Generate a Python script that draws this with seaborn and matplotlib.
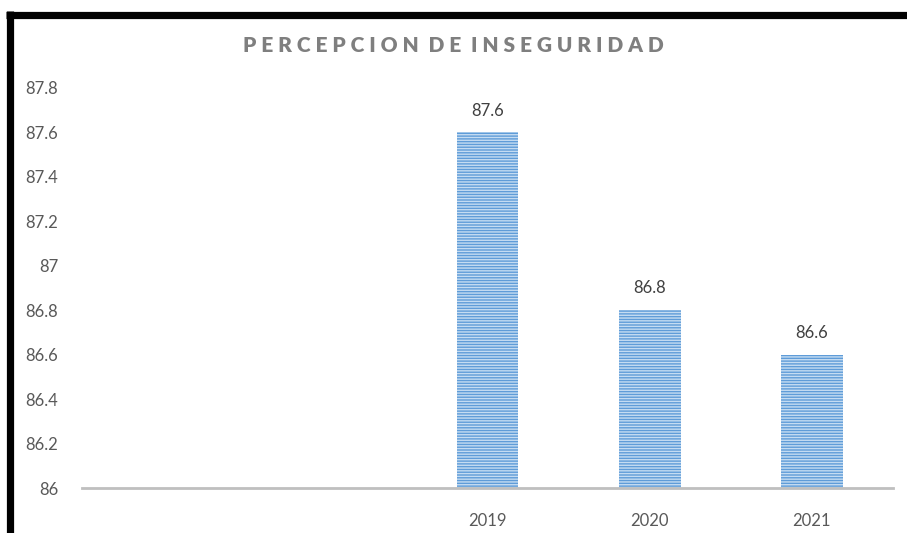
import matplotlib
matplotlib.use("Agg")
import matplotlib.pyplot as plt
from matplotlib.lines import Line2D
import seaborn as sns
import pandas as pd

# data
years = ["2019", "2020", "2021"]
values = [87.6, 86.8, 86.6]
slots = ["", " ", "2019", "2020", "2021"]   # two empty categories before the years
yticks = [86, 86.2, 86.4, 86.6, 86.8, 87, 87.2, 87.4, 87.6, 87.8]
ytick_labels = ["86", "86.2", "86.4", "86.6", "86.8", "87", "87.2", "87.4", "87.6", "87.8"]
title = "PERCEPCION DE INSEGURIDAD"

sns.set_style("white")
plt.rcParams["font.family"] = ["Lato", "DejaVu Sans"]
plt.rcParams["hatch.linewidth"] = 1.0

df = pd.DataFrame({"year": years, "value": values})

fig = plt.figure(figsize=(9.07, 5.33), dpi=100)
ax = fig.add_axes([0.0904, 0.0844, 0.8942, 0.7506])

sns.barplot(data=df, x="year", y="value", order=slots, color="#5b9bd5",
            width=0.38, ax=ax, errorbar=None, saturation=1)
for p in ax.patches:
    p.set_facecolor("#5f9cd8")
    p.set_edgecolor("#c5dcf2")
    p.set_hatch("------")
    p.set_linewidth(0)

ax.set_ylim(86, 87.8)
ax.set_yticks(yticks)
ax.set_yticklabels(ytick_labels)
ax.set_xlabel("")
ax.set_ylabel("")
ax.tick_params(axis="y", length=0, pad=17, labelsize=12, labelcolor="#595959")
ax.tick_params(axis="x", length=0, pad=18, labelsize=12, labelcolor="#595959")
for s in ["top", "right", "left"]:
    ax.spines[s].set_visible(False)
ax.spines["bottom"].set_color("#bfbfbf")
ax.spines["bottom"].set_linewidth(2)

for cont in ax.containers:
    ax.bar_label(cont, labels=[f"{v:g}" for v in values], padding=10,
                 fontsize=12, color="#404040")

spaced = "  ".join(" ".join(w) for w in title.split(" "))
fig.text(0.5, 0.914, spaced, ha="center", va="center", fontsize=15,
         fontweight="heavy", color="#7f7f7f")

# black frame at top and left
fig.add_artist(Line2D([6 / 907, 1.0], [1 - 14.5 / 533] * 2, color="black",
                      linewidth=5.2, solid_capstyle="butt", transform=fig.transFigure))
fig.add_artist(Line2D([9.5 / 907] * 2, [1 - 11 / 533, 0.0], color="black",
                      linewidth=5.2, solid_capstyle="butt", transform=fig.transFigure))

fig.savefig("out.png", dpi=100)
